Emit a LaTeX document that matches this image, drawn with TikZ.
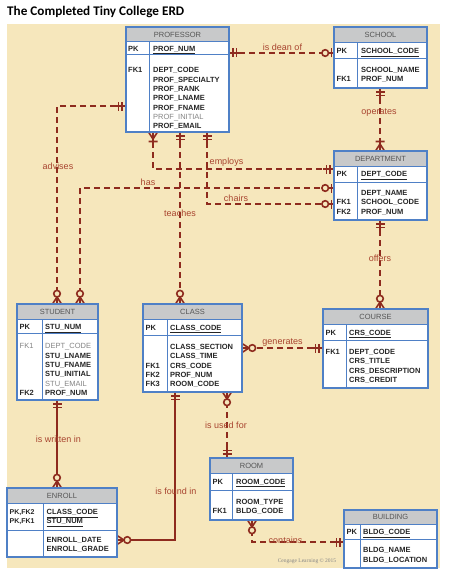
\documentclass[tikz,border=0pt]{standalone}
\usepackage{fontspec}
\setmainfont{Liberation Sans}
\newfontfamily\titlefont{Carlito}
\newfontfamily\cfont{Liberation Serif}
\usetikzlibrary{fit}

\definecolor{bg}{HTML}{F6E7BC}
\definecolor{rel}{HTML}{8E2B1E}
\definecolor{lbl}{HTML}{A8442F}
\definecolor{hdr}{HTML}{C8C9CA}
\definecolor{ebord}{HTML}{4F80C6}
\definecolor{txt}{HTML}{262626}
\definecolor{gtxt}{HTML}{858585}
\definecolor{httxt}{HTML}{555555}

\newcommand\gr[1]{{\color{gtxt}\mdseries #1}}
\newcommand\entbox[9]{%
  \fill[hdr] (#2,#3) rectangle (#4,#6);
  \fill[white] (#2,#6) rectangle (#4,#5);
  \draw[ebord, line width=1pt] (#2,#6) -- (#4,#6) (#2,#7) -- (#4,#7) (#8,#6) -- (#8,#5);
  \node[fit={(#2,#3)(#4,#5)}, inner sep=0pt, outer sep=0pt, draw=ebord, line width=1.2pt] (#1) {};
  \node[httitle] (#1-title) at ({(#2+#4)/2},{(#3+#6)/2}) {#9};
}

\tikzset{
  conn/.style={draw=rel, line width=1.8pt, dash pattern=on 6pt off 4pt},
  solidconn/.style={draw=rel, line width=1.8pt},
  rlabel/.style={text=lbl, font=\fontsize{9}{10}\selectfont, inner sep=0pt, anchor=base},
  attr/.style={anchor=north west, inner sep=0pt, text=txt, align=left, font=\fontsize{7.5}{9.3}\selectfont\bfseries},
  httitle/.style={inner sep=0pt, text=httxt, font=\fontsize{7.5}{9}\selectfont},
  mk/.style={draw=rel, line width=1.6pt, solid},
  pics/mone/.style={code={\draw[mk] (0,0)--(11,0) (4,-4.5)--(4,4.5) (7.5,-4.5)--(7.5,4.5);}},
  pics/zone/.style={code={\draw[mk] (0,0)--(5.5,0) (2.5,-4.5)--(2.5,4.5); \draw[mk, fill=bg] (8.8,0) circle[radius=3.3pt];}},
  pics/onemany/.style={code={\draw[mk] (0,-4.5)--(7,0)--(0,4.5) (0,0)--(12,0) (9.5,-4.5)--(9.5,4.5);}},
  pics/zmany/.style={code={\draw[mk] (0,-4.5)--(7,0)--(0,4.5) (0,0)--(7,0); \draw[mk, fill=bg] (10.3,0) circle[radius=3.3pt];}},
}

\begin{document}
\begin{tikzpicture}[x=1pt, y=-1pt]
\useasboundingbox (0,0) rectangle (450,578);
\fill[white] (0,0) rectangle (450,578);
\fill[bg] (7,24) rectangle (440,568);
\node[anchor=base west, inner sep=0pt, font=\titlefont\bfseries\fontsize{13.2}{15}\selectfont] (title) at (7,15.5) {The Completed Tiny College ERD};

% entity outlines as named nodes (drawn again on top later)
\node[fit={(126,27)(229,132)}, inner sep=0pt, outer sep=0pt] (prof) {};
\node[fit={(334,27)(427,88)}, inner sep=0pt, outer sep=0pt] (school) {};
\node[fit={(334,151)(427,220)}, inner sep=0pt, outer sep=0pt] (dept) {};
\node[fit={(17,304)(98,400)}, inner sep=0pt, outer sep=0pt] (student) {};
\node[fit={(143,304)(242,392)}, inner sep=0pt, outer sep=0pt] (class) {};
\node[fit={(323,309)(428,388)}, inner sep=0pt, outer sep=0pt] (course) {};
\node[fit={(7,488)(117,557)}, inner sep=0pt, outer sep=0pt] (enroll) {};
\node[fit={(210,458)(293,520)}, inner sep=0pt, outer sep=0pt] (room) {};
\node[fit={(344,510)(437,568)}, inner sep=0pt, outer sep=0pt] (bldg) {};

% ---------- connectors ----------
\draw[conn] ([yshift=-26pt]prof.north east) -- ([yshift=-26pt]school.north west);      % is dean of
\draw[conn] ([xshift=46pt]school.south west) -- ([xshift=46pt]dept.north west);         % operates
\draw[conn] ([xshift=27pt]prof.south west) |- ([yshift=-18pt]dept.north west);          % employs
\draw[conn] ([xshift=63pt]student.north west) |- ([yshift=-37pt]dept.north west);       % has
\draw[conn] ([xshift=81pt]prof.south west) |- ([yshift=-53pt]dept.north west);          % chairs
\draw[conn] ([yshift=-79pt]prof.north west) -| ([xshift=40pt]student.north west);       % advises
\draw[conn] ([xshift=54pt]prof.south west) -- ([xshift=37pt]class.north west);          % teaches
\draw[conn] ([xshift=46pt]dept.south west) -- ([xshift=57pt]course.north west);         % offers
\draw[conn] ([yshift=-39pt]course.north west) -- ([yshift=-44pt]class.north east);      % generates
\draw[solidconn] ([xshift=40pt]student.south west) -- ([xshift=50pt]enroll.north west); % is written in
\draw[solidconn] ([xshift=32pt]class.south west) |- ([yshift=-52pt]enroll.north east);  % is found in
\draw[conn] ([xshift=84pt]class.south west) -- ([xshift=17pt]room.north west);          % is used for
\draw[conn] ([xshift=42pt]room.south west) |- ([yshift=-32pt]bldg.north west);          % contains

% ---------- cardinality marks ----------
\pic at ([yshift=-26pt]prof.north east) {mone};
\pic[rotate=180] at ([yshift=-26pt]school.north west) {zone};
\pic[rotate=-90] at ([xshift=46pt]school.south west) {mone};
\pic[rotate=90] at ([xshift=46pt]dept.north west) {onemany};
\pic[rotate=-90] at ([xshift=27pt]prof.south west) {onemany};
\pic[rotate=180] at ([yshift=-18pt]dept.north west) {mone};
\pic[rotate=90] at ([xshift=63pt]student.north west) {zmany};
\pic[rotate=180] at ([yshift=-37pt]dept.north west) {zone};
\pic[rotate=-90] at ([xshift=81pt]prof.south west) {mone};
\pic[rotate=180] at ([yshift=-53pt]dept.north west) {zone};
\pic[rotate=180] at ([yshift=-79pt]prof.north west) {mone};
\pic[rotate=90] at ([xshift=40pt]student.north west) {zmany};
\pic[rotate=-90] at ([xshift=54pt]prof.south west) {mone};
\pic[rotate=90] at ([xshift=37pt]class.north west) {zmany};
\pic[rotate=-90] at ([xshift=46pt]dept.south west) {mone};
\pic[rotate=90] at ([xshift=57pt]course.north west) {zmany};
\pic[rotate=180] at ([yshift=-39pt]course.north west) {mone};
\pic at ([yshift=-44pt]class.north east) {zmany};
\pic[rotate=-90] at ([xshift=40pt]student.south west) {mone};
\pic[rotate=90] at ([xshift=50pt]enroll.north west) {zmany};
\pic[rotate=-90] at ([xshift=32pt]class.south west) {mone};
\pic at ([yshift=-52pt]enroll.north east) {zmany};
\pic[rotate=-90] at ([xshift=84pt]class.south west) {zmany};
\pic[rotate=90] at ([xshift=17pt]room.north west) {mone};
\pic[rotate=-90] at ([xshift=42pt]room.south west) {zmany};
\pic[rotate=180] at ([yshift=-32pt]bldg.north west) {mone};

% ---------- relationship labels ----------
\node[rlabel] (l-dean) at (282.5,51) {is dean of};
\node[rlabel] (l-oper) at (379,114) {operates};
\node[rlabel] (l-empl) at (226.5,164) {employs};
\node[rlabel] (l-has) at (148,185.5) {has};
\node[rlabel] (l-chairs) at (236,201.5) {chairs};
\node[rlabel] (l-adv) at (58,169) {advises};
\node[rlabel] (l-teach) at (180,216.5) {teaches};
\node[rlabel] (l-offers) at (380,261.5) {offers};
\node[rlabel] (l-gen) at (282.5,344.5) {generates};
\node[rlabel] (l-writ) at (58.5,442.5) {is written in};
\node[rlabel] (l-found) at (176,494) {is found in};
\node[rlabel] (l-used) at (226,428) {is used for};
\node[rlabel] (l-cont) at (285.5,543) {contains};

% ---------- entities ----------
\entbox{e-prof}{126}{27}{229}{132}{42}{55}{149}{PROFESSOR}
\node[attr] (prof-pk) at (128,45.9) {PK};
\node[attr] (prof-pka) at (153,45.9) {\underline{PROF\_NUM}};
\node[attr] (prof-fk) at (128,67.4) {FK1};
\node[attr] (prof-at) at (153,67.4) {DEPT\_CODE\\PROF\_SPECIALTY\\PROF\_RANK\\PROF\_LNAME\\PROF\_FNAME\\\gr{PROF\_INITIAL}\\PROF\_EMAIL};

\entbox{e-school}{334}{27}{427}{88}{43}{59}{357}{SCHOOL}
\node[attr] (school-pk) at (336.5,48.4) {PK};
\node[attr] (school-pka) at (361,48.4) {\underline{SCHOOL\_CODE}};
\node[attr] (school-fk) at (336.5,76) {FK1};
\node[attr] (school-at) at (361,66.7) {SCHOOL\_NAME\\PROF\_NUM};

\entbox{e-dept}{334}{151}{427}{220}{166}{182}{357}{DEPARTMENT}
\node[attr] (dept-pk) at (336.5,171.4) {PK};
\node[attr] (dept-pka) at (361,171.4) {\underline{DEPT\_CODE}};
\node[attr] (dept-fk) at (336.5,199.4) {FK1\\FK2};
\node[attr] (dept-at) at (361,190.1) {DEPT\_NAME\\SCHOOL\_CODE\\PROF\_NUM};

\entbox{e-student}{17}{304}{98}{400}{319}{333}{42}{STUDENT}
\node[attr] (stu-pk) at (19.5,324.4) {PK};
\node[attr] (stu-pka) at (45,324.4) {\underline{STU\_NUM}};
\node[attr] (stu-fk1) at (19.5,343.4) {\gr{FK1}};
\node[attr] (stu-fk2) at (19.5,389.9) {FK2};
\node[attr] (stu-at) at (45,343.4) {\gr{DEPT\_CODE}\\STU\_LNAME\\STU\_FNAME\\STU\_INITIAL\\\gr{STU\_EMAIL}\\PROF\_NUM};

\entbox{e-class}{143}{304}{242}{392}{319}{335}{167}{CLASS}
\node[attr] (class-pk) at (145.5,324.7) {PK};
\node[attr] (class-pka) at (170,324.7) {\underline{CLASS\_CODE}};
\node[attr] (class-fk) at (145.5,362.7) {FK1\\FK2\\FK3};
\node[attr] (class-at) at (170,344.1) {CLASS\_SECTION\\CLASS\_TIME\\CRS\_CODE\\PROF\_NUM\\ROOM\_CODE};

\entbox{e-course}{323}{309}{428}{388}{324}{340}{346}{COURSE}
\node[attr] (course-pk) at (325.5,329.9) {PK};
\node[attr] (course-pka) at (349,329.9) {\underline{CRS\_CODE}};
\node[attr] (course-fk) at (325.5,349.1) {FK1};
\node[attr] (course-at) at (349,349.1) {DEPT\_CODE\\CRS\_TITLE\\CRS\_DESCRIPTION\\CRS\_CREDIT};

\entbox{e-enroll}{7}{488}{117}{557}{503}{530}{43}{ENROLL}
\node[attr, font=\fontsize{7}{9}\selectfont\bfseries] (enr-pk) at (9.5,509.1) {PK,FK2\\PK,FK1};
\node[attr, font=\fontsize{7.5}{9}\selectfont\bfseries] (enr-pka) at (46.5,509.1) {\underline{CLASS\_CODE}\\\underline{STU\_NUM}};
\node[attr] (enr-at) at (46.5,536.7) {ENROLL\_DATE\\ENROLL\_GRADE};

\entbox{e-room}{210}{458}{293}{520}{473}{490}{232}{ROOM}
\node[attr] (room-pk) at (212.5,478.9) {PK};
\node[attr] (room-pka) at (236,478.9) {\underline{ROOM\_CODE}};
\node[attr] (room-fk) at (212.5,508.4) {FK1};
\node[attr] (room-at) at (236,499.1) {ROOM\_TYPE\\BLDG\_CODE};

\entbox{e-bldg}{344}{510}{437}{568}{524}{539}{360}{BUILDING}
\node[attr] (bldg-pk) at (346.5,529) {PK};
\node[attr] (bldg-pka) at (363,529) {\underline{BLDG\_CODE}};
\node[attr] (bldg-at) at (363,547.4) {BLDG\_NAME\\BLDG\_LOCATION};

\node[inner sep=0pt, text=gtxt, font=\cfont\fontsize{5.5}{6}\selectfont] (credit) at (307,561) {Cengage Learning © 2015};
\end{tikzpicture}
\end{document}
